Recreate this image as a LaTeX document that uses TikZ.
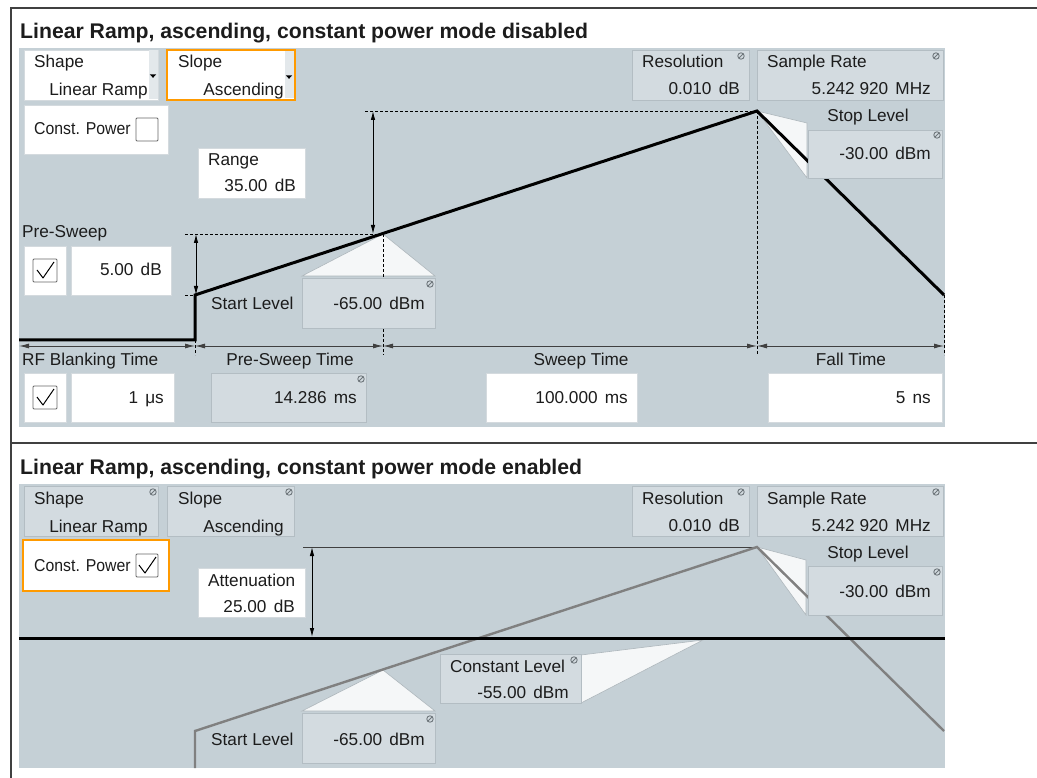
\documentclass[tikz,border=0pt]{standalone}
\usepackage{fontspec}
\setmainfont{Liberation Sans}
\usetikzlibrary{arrows.meta}
\definecolor{bg}{HTML}{C5D0D6}
\definecolor{wgrayc}{HTML}{D3DBE0}
\definecolor{gborder}{HTML}{B3BDC3}
\definecolor{wborder}{HTML}{D4DADE}
\definecolor{stripc}{HTML}{E3E8EB}
\definecolor{orangec}{HTML}{FF9A00}
\definecolor{callfill}{HTML}{F5F7F8}
\definecolor{callborder}{HTML}{AEB7BC}
\definecolor{txt}{HTML}{1C1C1C}
\definecolor{iconc}{HTML}{6E767B}
\definecolor{tblc}{HTML}{404040}
\definecolor{rampgray}{HTML}{808080}
\newcommand\gap{\hspace{0.42em}}
\newcommand\wfont{\fontsize{17.2}{20}\selectfont}
\newcommand\narrowtxt[1]{\scalebox{0.92}[1]{#1}}
\begin{document}
\begin{tikzpicture}[x=1pt,y=-1pt,
  box/.style 2 args={minimum width=#1, minimum height=#2, anchor=north west, inner sep=0, outer sep=0},
  panel/.style={fill=bg, draw=none},
  wwhite/.style={fill=white, draw=wborder, line width=0.8},
  wgray/.style={fill=wgrayc, draw=gborder, line width=0.8},
  obox/.style={fill=white, draw=orangec, line width=2.6},
  stripbox/.style={fill=stripc, draw=none},
  chkbox/.style={fill=white, draw=gray!80!black, line width=0.8, rounded corners=1},
  lbl/.style={font=\wfont, text=txt, inner sep=0, anchor=base west},
  lblc/.style={font=\wfont, text=txt, inner sep=0, anchor=base},
  val/.style={font=\wfont, text=txt, inner sep=0, anchor=base east},
  title/.style={font=\fontsize{21.2}{25}\selectfont\bfseries, text=txt, inner sep=0, anchor=base west},
  callout/.style={fill=callfill, draw=callborder, line width=0.6},
  ramp/.style={line width=3, black, line join=miter},
  gramp/.style={line width=2.4, rampgray, line join=miter},
  dashln/.style={densely dashed, line width=0.7, black},
  dimarr/.style={line width=0.9, black, {Latex[length=9,width=4.5]}-{Latex[length=9,width=4.5]}},
  timearr/.style={line width=0.9, tblc, {Latex[length=10,width=5]}-{Latex[length=10,width=5]}},
  tbl/.style={line width=1.4, tblc},
  noedit/.pic={\draw[iconc, line width=0.9] (0,0) circle (3.2); \draw[iconc, line width=0.9] (-2.2,2.2) -- (2.2,-2.2);},
  tick/.pic={\draw[black, line width=1, line join=round] (4,11) -- (10,19) -- (21,3);},
  ddown/.pic={\fill[black] (-3.2,-1.6) -- (3.2,-1.6) -- (0,1.8) -- cycle;}
]
\useasboundingbox (0,0) rectangle (1037,778);

% table lines
\draw[tbl] (11,778) -- (11,8) -- (1037,8);
\draw[tbl] (11,443) -- (1037,443);

% ================= TOP PANEL =================
\node[title] (t1) at (20,38.5) {Linear Ramp, ascending, constant power mode disabled};
\node[panel, box={926}{379}] (p1) at (19,48) {};

% Shape
\node[wwhite, box={134}{50}] (shape1) at (24,50) {};
\node[stripbox, box={9}{49}] (shape1s) at (148.5,50.5) {};
\pic at (153,76) {ddown};
\node[lbl] (shape1l) at (34,68) {Shape};
\node[val] (shape1v) at (148,96) {Linear Ramp};
% Slope
\node[obox, box={128}{50}] (slope1) at (167,50) {};
\node[stripbox, box={9}{47}] (slope1s) at (284.5,51.5) {};
\pic at (289,77) {ddown};
\node[lbl] (slope1l) at (178,68) {Slope};
\node[val] (slope1v) at (284,96) {Ascending};
% Const power
\node[wwhite, box={144}{49}] (cp1) at (24,105) {};
\node[lbl] (cp1l) at (34,135) {\narrowtxt{Const. Power}};
\node[chkbox, box={22}{23}] (cp1c) at (136,118) {};
% Range
\node[wwhite, box={107}{50}] (range1) at (198,148) {};
\node[lbl] (range1l) at (208,166) {Range};
\node[val] (range1v) at (296,192) {35.00\gap dB};
% Resolution, Sample rate
\node[wgray, box={117}{50}] (res1) at (632,50) {};
\node[lbl] (res1l) at (642,68) {Resolution};
\node[val] (res1v) at (740,95) {0.010\gap dB};
\pic at (741,56) {noedit};
\node[wgray, box={186}{50}] (sr1) at (757,50) {};
\node[lbl] (sr1l) at (767,68) {Sample Rate};
\node[val] (sr1v) at (931,95) {5.242 920\gap MHz};
\pic at (936,56) {noedit};

% Pre-sweep
\node[lbl] (ps1l) at (22,238) {Pre-Sweep};
\node[wwhite, box={42}{49}] (ps1c) at (24,246) {};
\node[chkbox, box={24}{23}] (ps1cb) at (33,259) {};
\pic at (33,259) {tick};
\node[wwhite, box={100}{49}] (ps1b) at (71,246) {};
\node[val] (ps1v) at (162,276) {5.00\gap dB};

% ramp geometry
\coordinate (a0) at (19,340);
\coordinate (a1) at (195,340);
\coordinate (a2) at (195,295);
\coordinate (a3) at (383,234);
\coordinate (a4) at (757,111);
\coordinate (a5) at (944,295);

% callouts (below lines)
\coordinate (sc1) at (807,123);
\coordinate (sc2) at (807,178);
\filldraw[callout] (a4) -- (sc1) -- (sc2) -- cycle;
\coordinate (st1) at (302,276);
\coordinate (st2) at (435,276);
\filldraw[callout] (a3) -- (st1) -- (st2) -- cycle;

% dashed guides
\coordinate (d1) at (185,295);
\coordinate (d2) at (185,234);
\coordinate (d3) at (365,111);
\coordinate (v1) at (195,355);
\coordinate (v2) at (383,355);
\coordinate (v3) at (757,355);
\coordinate (v4) at (944,355);
\draw[dashln] (d1) -- (a2);
\draw[dashln] (d2) -- (a3);
\draw[dashln] (d3) -- (a4);
\draw[dashln] (a1) -- (v1);
\draw[dashln] (a3) -- (v2);
\draw[dashln] (a4) -- (v3);
\draw[dashln] (a5) -- (v4);

% ramp line
\draw[ramp] (a0) -- (a1) -- (a2) -- (a4) -- (a5);

% dimension arrows
\coordinate (pa1) at (196,234);
\coordinate (pa2) at (196,295);
\draw[dimarr] (pa1) -- (pa2);
\coordinate (ra1) at (373,111);
\coordinate (ra2) at (373,234);
\draw[dimarr] (ra1) -- (ra2);

% time arrows
\coordinate (ta0) at (19,346);
\coordinate (ta1) at (195,346);
\coordinate (ta2) at (383,346);
\coordinate (ta3) at (757,346);
\coordinate (ta4) at (944,346);
\draw[timearr] (ta0) -- (ta1);
\draw[timearr] (ta1) -- (ta2);
\draw[timearr] (ta2) -- (ta3);
\draw[timearr] (ta3) -- (ta4);

% Start level box
\node[wgray, box={133}{50}] (sl1) at (302,278) {};
\node[lbl] (sl1l) at (211,309) {Start Level};
\node[val] (sl1v) at (425,309) {-65.00\gap dBm};
\pic at (430,284) {noedit};

% Stop level box
\node[lblc] (stp1l) at (868,122) {Stop Level};
\node[wgray, box={134}{48}] (stp1) at (808,130) {};
\node[val] (stp1v) at (931,160) {-30.00\gap dBm};
\pic at (937,135) {noedit};

% time labels
\node[lbl] (rf1l) at (22,366) {RF Blanking Time};
\node[lblc] (pst1l) at (290,366) {Pre-Sweep Time};
\node[lblc] (sw1l) at (581,366) {Sweep Time};
\node[lblc] (ft1l) at (851,366) {Fall Time};

% time boxes
\node[wwhite, box={42}{49}] (rf1c) at (24,373) {};
\node[chkbox, box={24}{23}] (rf1cb) at (33,386) {};
\pic at (33,386) {tick};
\node[wwhite, box={103}{49}] (rf1b) at (71,373) {};
\node[val] (rf1v) at (164,403) {1\gap μs};
\node[wgray, box={155}{49}] (pst1) at (211,373) {};
\node[val] (pst1v) at (357,403) {14.286\gap ms};
\pic at (361,379) {noedit};
\node[wwhite, box={151}{49}] (sw1) at (486,373) {};
\node[val] (sw1v) at (628,403) {100.000\gap ms};
\node[wwhite, box={174}{49}] (ft1) at (768,373) {};
\node[val] (ft1v) at (931,403) {5\gap ns};

% ================= BOTTOM PANEL =================
\node[title] (t2) at (20,474.5) {Linear Ramp, ascending, constant power mode enabled};
\node[panel, box={926}{284}] (p2) at (19,484) {};

\node[wgray, box={134}{50}] (shape2) at (24,486) {};
\node[lbl] (shape2l) at (34,504) {Shape};
\node[val] (shape2v) at (148,532) {Linear Ramp};
\pic at (153,492) {noedit};
\node[wgray, box={127}{50}] (slope2) at (167,486) {};
\node[lbl] (slope2l) at (178,504) {Slope};
\node[val] (slope2v) at (284,532) {Ascending};
\pic at (289,492) {noedit};

\node[obox, box={146}{51}] (cp2) at (23,540) {};
\node[lbl] (cp2l) at (34,571) {\narrowtxt{Const. Power}};
\node[chkbox, box={22}{23}] (cp2c) at (136,554) {};
\pic at (135,554) {tick};

\node[wwhite, box={107}{49}] (att2) at (198,568) {};
\node[lbl] (att2l) at (208,586) {Attenuation};
\node[val] (att2v) at (295,612) {25.00\gap dB};

\node[wgray, box={117}{50}] (res2) at (632,486) {};
\node[lbl] (res2l) at (642,504) {Resolution};
\node[val] (res2v) at (740,531) {0.010\gap dB};
\pic at (741,492) {noedit};
\node[wgray, box={186}{50}] (sr2) at (757,486) {};
\node[lbl] (sr2l) at (767,504) {Sample Rate};
\node[val] (sr2v) at (931,531) {5.242 920\gap MHz};
\pic at (936,492) {noedit};

% lower geometry
\coordinate (b1) at (195,768);
\coordinate (b2) at (195,731);
\coordinate (b3) at (383,670);
\coordinate (b4) at (757,547);
\coordinate (b5) at (944,731);
\coordinate (tl) at (303,547);
\coordinate (k0) at (19,638);
\coordinate (k1) at (945,638);

% callouts
\coordinate (sc3) at (806,560);
\coordinate (sc4) at (806,615);
\filldraw[callout] (b4) -- (sc3) -- (sc4) -- cycle;
\coordinate (st3) at (302,711);
\coordinate (st4) at (435,711);
\filldraw[callout] (b3) -- (st3) -- (st4) -- cycle;
\coordinate (cc1) at (581,655);
\coordinate (cc2) at (703,640);
\coordinate (cc3) at (581,703);
\filldraw[callout] (cc1) -- (cc2) -- (cc3) -- cycle;

\draw[line width=1, tblc] (tl) -- (b4);
\draw[gramp] (b1) -- (b2) -- (b4) -- (b5);
\draw[line width=3, black] (k0) -- (k1);
\coordinate (aa1) at (312,547);
\coordinate (aa2) at (312,637);
\draw[dimarr] (aa1) -- (aa2);

\node[lblc] (stp2l) at (868,558) {Stop Level};
\node[wgray, box={134}{49}] (stp2) at (808,566) {};
\node[val] (stp2v) at (931,597) {-30.00\gap dBm};
\pic at (937,572) {noedit};

\node[wgray, box={141}{49}] (cl2) at (440,654) {};
\node[lbl] (cl2l) at (450,672) {Constant Level};
\node[val] (cl2v) at (569,698) {-55.00\gap dBm};
\pic at (574,660) {noedit};

\node[wgray, box={133}{50}] (sl2) at (302,713) {};
\node[lbl] (sl2l) at (211,745) {Start Level};
\node[val] (sl2v) at (425,745) {-65.00\gap dBm};
\pic at (430,719) {noedit};
\end{tikzpicture}
\end{document}
